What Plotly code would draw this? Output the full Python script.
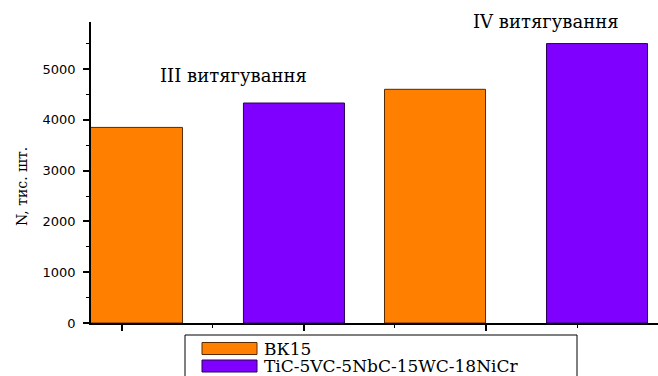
import plotly.graph_objects as go

# Tool life (thousand pieces) for two drawing stages
series_names = ["ВК15", "TiC-5VC-5NbC-15WC-18NiCr"]
bk15_x = [1.055, 2.72]
bk15_values = [3850, 4600]
tic_x = [1.945, 3.61]
tic_values = [4330, 5500]
stage_labels = ["III витягування", "IV витягування"]
y_title = "N, тис. шт."

colors = ["#FF8000", "#8000FF"]
outlines = ["#5a2a00", "#2a0055"]

W, H = 658, 376
L, R, T, B = 91, 0, 22, 53
PW, PH = W - L - R, H - T - B


def px(x):
    return (x - L) / PW


def py(y):
    return (H - B - y) / PH


fig = go.Figure()
fig.add_trace(go.Bar(x=bk15_x, y=bk15_values, width=0.555, name=series_names[0],
                     marker=dict(color=colors[0], line=dict(color=outlines[0], width=1))))
fig.add_trace(go.Bar(x=tic_x, y=tic_values, width=0.555, name=series_names[1],
                     marker=dict(color=colors[1], line=dict(color=outlines[1], width=1))))

serif = "DejaVu Serif"
sans = "DejaVu Sans"

fig.update_layout(
    width=W, height=H,
    margin=dict(l=L, r=R, t=T, b=B),
    paper_bgcolor="white", plot_bgcolor="white",
    showlegend=False,
    xaxis=dict(range=[0.83, 3.945], showgrid=False, zeroline=False,
               showline=True, linecolor="black", linewidth=1.5,
               tickmode="array", tickvals=[1, 2, 3], showticklabels=False,
               ticks="outside", ticklen=6, tickwidth=1.5, tickcolor="black",
               minor=dict(tickvals=[1.5, 2.5, 3.5], ticks="outside", ticklen=3,
                          tickwidth=1, tickcolor="black")),
    yaxis=dict(range=[0, 5925], showgrid=False, zeroline=False,
               showline=True, linecolor="black", linewidth=1.5,
               tickmode="linear", tick0=0, dtick=1000,
               ticks="outside", ticklen=6, tickwidth=1.5, tickcolor="black",
               tickfont=dict(family=sans, size=13, color="black"),
               ticklabelstandoff=5,
               minor=dict(dtick=500, ticks="outside", ticklen=3, tickwidth=1,
                          tickcolor="black")),
)


def label(x, y, text, size, angle=0, xanchor="center", family=serif):
    fig.add_annotation(x=px(x), y=py(y), xref="paper", yref="paper",
                       xanchor=xanchor, yanchor="middle", textangle=angle,
                       text=text, showarrow=False,
                       font=dict(family=family, size=size, color="black"))


# axis title
label(22, 187, y_title, 14, angle=-90)

# stage labels
label(233, 76, stage_labels[0], 18)
label(546, 21, stage_labels[1], 18)

# legend box
fig.add_shape(type="rect", xref="paper", yref="paper",
              x0=px(185), x1=px(577), y0=py(335), y1=py(390),
              line=dict(color="black", width=1), fillcolor="white", layer="above")
for i, (name, c, oc) in enumerate(zip(series_names, colors, outlines)):
    yc = 348.5 + i * 17.5
    fig.add_shape(type="rect", xref="paper", yref="paper",
                  x0=px(202), x1=px(257), y0=py(yc - 6), y1=py(yc + 6),
                  line=dict(color=oc, width=1), fillcolor=c, layer="above")
    label(262, yc, name, 17, xanchor="left")

fig.write_html("out.html")
